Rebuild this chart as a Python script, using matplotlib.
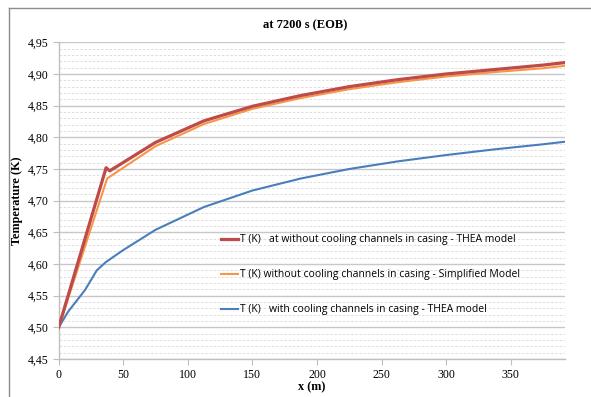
import matplotlib
matplotlib.use("Agg")
import matplotlib.pyplot as plt
from matplotlib.lines import Line2D
from matplotlib.ticker import MultipleLocator, FuncFormatter

# Temperature profiles along the conductor at t = 7200 s
x_thea = [0, 36.7, 39.5, 75, 112.5, 150, 187.5, 225, 262.5, 300, 337.5, 375, 392]
t_thea = [4.500, 4.752, 4.747, 4.792, 4.826, 4.849, 4.866, 4.880, 4.891, 4.900, 4.907, 4.914, 4.918]

x_simple = [0, 37.5, 75, 112.5, 150, 187.5, 225, 262.5, 300, 337.5, 375, 392]
t_simple = [4.500, 4.735, 4.786, 4.821, 4.845, 4.862, 4.876, 4.887, 4.896, 4.903, 4.909, 4.913]

x_cooled = [0, 7.4, 20.4, 29.5, 36.5, 50, 75, 112.5, 150, 187.5, 225, 262.5, 300, 337.5, 375, 392]
t_cooled = [4.500, 4.525, 4.559, 4.590, 4.603, 4.622, 4.654, 4.690, 4.716, 4.735, 4.750,
            4.762, 4.772, 4.781, 4.789, 4.793]

labels = [
    "T (K)   at without cooling channels in casing - THEA model",
    "T (K) without cooling channels in casing - Simplified Model",
    "T (K)   with cooling channels in casing - THEA model",
]

serif = "Liberation Serif"
W, H = 591, 397

fig = plt.figure(figsize=(W / 100, H / 100), dpi=100)
ax = fig.add_axes([58.7 / W, 1 - 359 / H, (565 - 58.7) / W, (359 - 42.3) / H])

ax.plot(x_thea, t_thea, color="#be4b48", lw=2.3, label=labels[0], zorder=4)
ax.plot(x_simple, t_simple, color="#f79646", lw=1.5, label=labels[1], zorder=3)
ax.plot(x_cooled, t_cooled, color="#4a7ebb", lw=1.5, label=labels[2], zorder=3)

ax.set_xlim(0, 392)
ax.set_ylim(4.45, 4.95)
ax.xaxis.set_major_locator(MultipleLocator(50))
ax.yaxis.set_major_locator(MultipleLocator(0.05))
ax.yaxis.set_minor_locator(MultipleLocator(0.01))
ax.yaxis.set_major_formatter(FuncFormatter(lambda v, p: f"{v:.2f}".replace(".", ",")))

ax.grid(axis="y", which="major", color="#c8c8c8", lw=1.0)
ax.grid(axis="y", which="minor", color="#d9d9d9", lw=0.6, ls=(0, (3, 2)))
ax.set_axisbelow(True)

for side in ("top", "right"):
    ax.spines[side].set_visible(False)
for side in ("left", "bottom"):
    ax.spines[side].set_color("#bfbfbf")
    ax.spines[side].set_linewidth(1.0)

ax.tick_params(axis="both", which="major", length=4, color="#bfbfbf", labelsize=8.6)
ax.tick_params(axis="y", which="minor", length=0)
for lab in ax.get_xticklabels() + ax.get_yticklabels():
    lab.set_fontfamily(serif)

ax.set_xlabel("x (m)", fontfamily=serif, fontweight="bold", fontsize=8.8, labelpad=0)
ax.set_ylabel("Temperature (K)", fontfamily=serif, fontweight="bold", fontsize=8.8, labelpad=3)

fig.text(305 / W, 1 - 25 / H, "at 7200 s (EOB)", ha="center", va="center",
         fontfamily=serif, fontweight="bold", fontsize=9)

leg = ax.legend(loc="upper left", bbox_to_anchor=((212 - 58.7) / (565 - 58.7), (359 - 225) / (359 - 42.3)),
                frameon=False, handlelength=1.6, handletextpad=0.15, labelspacing=2.3,
                prop={"family": "Open Sans", "size": 7.5})

# chart area border
fig.add_artist(Line2D([9 / W, 1], [1 - 8 / H, 1 - 8 / H], color="#8c8c8c", lw=1.0))
fig.add_artist(Line2D([9 / W, 9 / W], [0, 1 - 8 / H], color="#8c8c8c", lw=1.0))

fig.savefig("out.png", dpi=100)
